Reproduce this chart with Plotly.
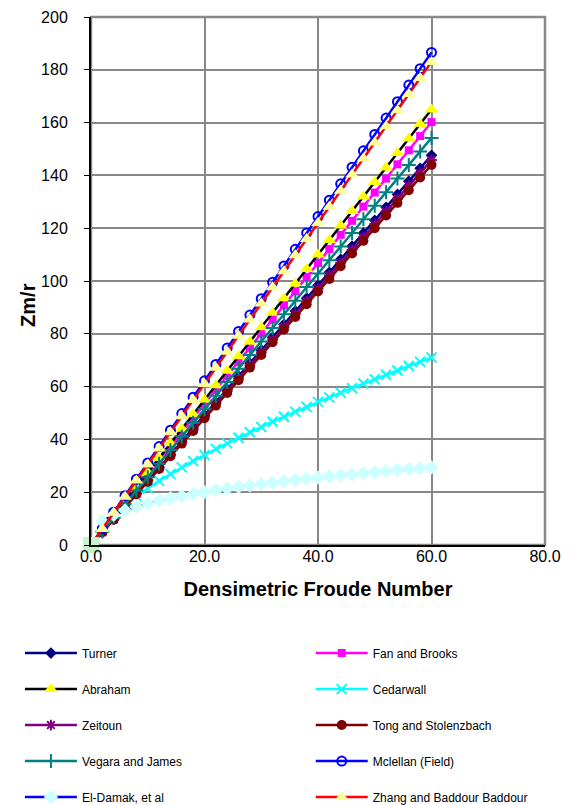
import plotly.graph_objects as go

# Densimetric Froude number
fr = [0, 2, 4, 6, 8, 10, 12, 14, 16, 18, 20, 22, 24, 26, 28, 30, 32, 34, 36, 38,
      40, 42, 44, 46, 48, 50, 52, 54, 56, 58, 60]
fr_curve = fr[1:]

turner = [0, 4.9, 9.8, 14.8, 19.7, 24.6, 29.5, 34.4, 39.4, 44.3, 49.2, 54.1, 59.0, 64.0, 68.9, 73.8,
          78.7, 83.6, 88.6, 93.5, 98.4, 103.3, 108.2, 113.2, 118.1, 123.0, 127.9, 132.8, 137.8, 142.7, 147.6]
fan_brooks = [0, 5.3, 10.7, 16.0, 21.4, 26.7, 32.0, 37.4, 42.7, 48.1, 53.4, 58.7, 64.1, 69.4, 74.8, 80.1,
              85.4, 90.8, 96.1, 101.5, 106.8, 112.1, 117.5, 122.8, 128.2, 133.5, 138.8, 144.2, 149.5, 154.9, 160.2]
abraham = [0, 5.5, 11.0, 16.5, 22.0, 27.5, 33.0, 38.5, 44.0, 49.5, 55.0, 60.5, 66.0, 71.5, 77.0, 82.5,
           88.0, 93.5, 99.0, 104.5, 110.0, 115.5, 121.0, 126.5, 132.0, 137.5, 143.0, 148.5, 154.0, 159.5, 165.0]
cedarwall = [7.3, 11.7, 15.3, 18.5, 21.5, 24.3, 26.9, 29.4, 31.8, 34.1, 36.4, 38.5, 40.6, 42.7, 44.7,
             46.7, 48.6, 50.5, 52.3, 54.2, 55.9, 57.7, 59.4, 61.2, 62.8, 64.5, 66.1, 67.8, 69.4, 71.0]
zeitoun = [0, 4.9, 9.7, 14.6, 19.4, 24.3, 29.2, 34.0, 38.9, 43.7, 48.6, 53.5, 58.3, 63.2, 68.0, 72.9,
           77.8, 82.6, 87.5, 92.3, 97.2, 102.1, 106.9, 111.8, 116.6, 121.5, 126.4, 131.2, 136.1, 140.9, 145.8]
tong = [0, 4.8, 9.6, 14.4, 19.2, 24.0, 28.8, 33.6, 38.4, 43.2, 48.0, 52.8, 57.6, 62.4, 67.2, 72.0,
        76.8, 81.6, 86.4, 91.2, 96.0, 100.8, 105.6, 110.4, 115.2, 120.0, 124.8, 129.6, 134.4, 139.2, 144.0]
vegara = [0, 5.1, 10.3, 15.4, 20.6, 25.7, 30.8, 36.0, 41.1, 46.3, 51.4, 56.5, 61.7, 66.8, 72.0, 77.1,
          82.2, 87.4, 92.5, 97.7, 102.8, 107.9, 113.1, 118.2, 123.4, 128.5, 133.6, 138.8, 143.9, 149.1, 154.2]
mclellan = [0, 6.2, 12.4, 18.7, 24.9, 31.1, 37.3, 43.5, 49.8, 56.0, 62.2, 68.4, 74.6, 80.9, 87.1, 93.3,
            99.5, 105.7, 112.0, 118.2, 124.4, 130.6, 136.8, 143.1, 149.3, 155.5, 161.7, 167.9, 174.2, 180.4, 186.6]
el_damak = [8.9, 11.4, 13.1, 14.5, 15.7, 16.8, 17.7, 18.5, 19.3, 20.0, 20.7, 21.4, 22.0, 22.5, 23.1,
            23.6, 24.1, 24.6, 25.1, 25.5, 26.0, 26.4, 26.8, 27.2, 27.6, 28.0, 28.4, 28.7, 29.1, 29.4]
zhang = [0, 6.1, 12.2, 18.3, 24.4, 30.5, 36.6, 42.7, 48.8, 54.9, 61.0, 67.1, 73.2, 79.3, 85.4, 91.5,
         97.6, 103.7, 109.8, 115.9, 122.0, 128.1, 134.2, 140.3, 146.4, 152.5, 158.6, 164.7, 170.8, 176.9, 183.0]
origin_x = [0]
origin_y = [0]

x_ticks = [0, 20, 40, 60, 80]
y_ticks = [0, 20, 40, 60, 80, 100, 120, 140, 160, 180, 200]

FONT = "Arial, Liberation Sans, sans-serif"

series = [
    ("Turner", fr, turner, "#000080", "diamond", "#000080", 9, "legend"),
    ("Fan and Brooks", fr, fan_brooks, "#FF00FF", "square", "#FF00FF", 8, "legend2"),
    ("Abraham", fr, abraham, "#000000", "triangle-up", "#FFFF00", 12, "legend"),
    ("Cedarwall", fr_curve, cedarwall, "#00FFFF", "x-thin-open", "#00FFFF", 10, "legend2"),
    ("Zeitoun", fr, zeitoun, "#800080", "asterisk-open", "#800080", 9, "legend"),
    ("Tong and Stolenzbach", fr, tong, "#800000", "circle", "#800000", 10, "legend2"),
    ("Vegara and James", fr, vegara, "#008080", "cross-thin-open", "#008080", 10, "legend"),
    ("Mclellan (Field)", fr, mclellan, "#0000FF", "circle-open", "#0000FF", 9, "legend2"),
    ("El-Damak, et al", fr_curve, el_damak, "#0000FF", "diamond", "#CCFFFF", 11, "legend"),
    ("Zhang and Baddour Baddour", fr, zhang, "#FF0000", "triangle-up", "#FFFF99", 12, "legend2"),
]

fig = go.Figure()
for name, xs, ys, lc, sym, mc, ms, leg in series:
    open_sym = sym.endswith("open")
    fig.add_trace(go.Scatter(
        x=xs, y=ys, name=name, mode="lines+markers",
        line=dict(color=lc, width=2.5),
        marker=dict(symbol=sym, size=ms, color=mc,
                    line=dict(color=mc, width=2 if open_sym else 0)),
        legend=leg, legendgroup=name,
    ))

fig.add_trace(go.Scatter(
    x=origin_x, y=origin_y, mode="markers", showlegend=False,
    marker=dict(symbol="square", size=16, color="#C8F5C8"),
    cliponaxis=False,
))

# page body has an 8px default margin; figure sized so it fits the 576x805 window
fig.update_layout(
    width=568, height=797,
    margin=dict(l=83, r=31, t=9, b=260, autoexpand=False),
    paper_bgcolor="white", plot_bgcolor="white",
    font=dict(family=FONT, color="black"),
    xaxis=dict(
        range=[0, 80], tickvals=x_ticks, tickformat=".1f",
        showgrid=True, gridcolor="#888888", gridwidth=1.5,
        showline=True, linecolor="black", linewidth=2,
        ticks="", zeroline=False, tickfont=dict(size=16), automargin=False,
        ticklabelstandoff=-4,
        title=dict(text="<b>Densimetric Froude Number</b>", font=dict(size=20), standoff=18),
    ),
    yaxis=dict(
        range=[0, 200], tickvals=y_ticks,
        showgrid=True, gridcolor="#888888", gridwidth=1.5,
        showline=True, linecolor="black", linewidth=2,
        ticks="outside", ticklen=5, tickcolor="black", ticklabelstandoff=13,
        zeroline=False, tickfont=dict(size=16), automargin=False,
    ),
    annotations=[dict(text="<b>Zm/r</b>", textangle=-90, font=dict(size=20),
                      xref="paper", yref="paper", x=-0.139, y=0.4545,
                      xanchor="center", yanchor="middle", showarrow=False)],
    legend=dict(
        xref="container", yref="container",
        x=0.021, y=0.2088, xanchor="left", yanchor="top",
        orientation="v", tracegroupgap=17, font=dict(size=12),
        itemwidth=52, bgcolor="rgba(0,0,0,0)",
    ),
    legend2=dict(
        xref="container", yref="container",
        x=0.533, y=0.2088, xanchor="left", yanchor="top",
        orientation="v", tracegroupgap=17, font=dict(size=12),
        itemwidth=52, bgcolor="rgba(0,0,0,0)",
    ),
    shapes=[dict(type="rect", xref="paper", yref="paper", x0=0, y0=0, x1=1, y1=1,
                 line=dict(color="#888888", width=2.5), layer="below")],
)

fig.write_html("out.html")
